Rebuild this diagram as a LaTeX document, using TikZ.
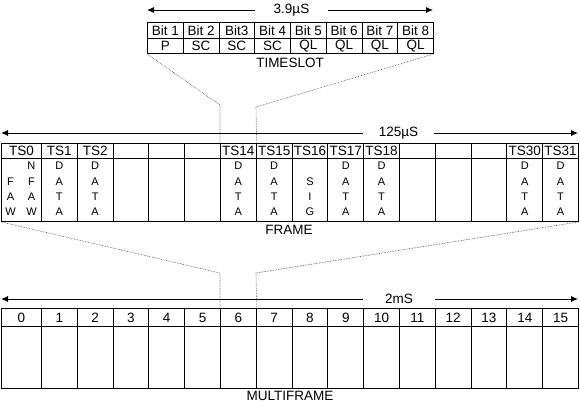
\documentclass[tikz,border=0pt]{standalone}
\usepackage{fontspec}
\setmainfont{Liberation Sans}
\usetikzlibrary{arrows.meta}

\begin{document}
\begin{tikzpicture}[x=1pt, y=-1pt]
% Styles
\tikzset{
  cell/.style={draw, line width=0.9pt, anchor=north west, inner sep=0pt, font=\fontsize{13.5}{15}\selectfont},
  letter/.style={inner sep=0pt, font=\fontsize{11}{13}\selectfont},
  title/.style={inner sep=0pt, font=\fontsize{13.5}{15}\selectfont},
  span/.style={-{Latex[length=7pt, width=6pt]}, line width=0.9pt},
  link/.style={densely dotted, line width=0.6pt, black!75}
}
\useasboundingbox (0,0) rectangle (580,406);

% Timeslot
\foreach \b/\v [count=\i] in {Bit 1/P, Bit 2/SC, Bit3/SC, Bit 4/SC, Bit 5/QL, Bit 6/QL, Bit 7/QL, Bit 8/QL} {
  \node[cell, minimum width=35.75, minimum height=16] (bit\i) at ({147+(\i-1)*35.75}, 22) {\b};
  \node[cell, minimum width=35.75, minimum height=15] (val\i) at ({147+(\i-1)*35.75}, 38) {\v};
}
\node[title] (tslot) at (290, 63) {TIMESLOT};
\node[title, minimum width=73] (tslen) at (291.5, 10) {3.9µS};
\coordinate (tsl) at (147, 10);
\coordinate (tsr) at (433, 10);
\draw[span] (tslen.west) -- (tsl);
\draw[span] (tslen.east) -- (tsr);

% Frame
\foreach \h [count=\i from 0] in {TS0,TS1,TS2,{},{},{},TS14,TS15,TS16,TS17,TS18,{},{},{},TS30,TS31} {
  \pgfmathsetmacro\xl{\i==0 ? 1 : 41+(\i-1)*35.8}
  \pgfmathsetmacro\w{\i==0 ? 40 : 35.8}
  \node[cell, minimum width=\w, minimum height=15] (fh\i) at (\xl, 143) {\h};
  \node[cell, minimum width=\w, minimum height=63] (fb\i) at (\xl, 158) {};
}
\foreach \i in {1,2,6,7,9,10,14,15}
  \foreach \c [count=\r] in {D,A,T,A}
    \path (fb\i.north) ++(0, {8+(\r-1)*15.3}) node[letter] (d\i-\r) {\c};
\foreach \c [count=\r from 2] in {S,I,G}
  \path (fb8.north) ++(0, {8+(\r-1)*15.3}) node[letter] (s8-\r) {\c};
\foreach \c [count=\r from 2] in {F,A,W}
  \path (fb0.north) ++(-11, {8+(\r-1)*15.3}) node[letter] (fa-\r) {\c};
\foreach \c [count=\r] in {N,F,A,W}
  \path (fb0.north) ++(10, {8+(\r-1)*15.3}) node[letter] (nf-\r) {\c};
\node[title] (frame) at (289, 230) {FRAME};
\node[title, minimum width=71] (frlen) at (398.5, 133) {125µS};
\coordinate (frl) at (1, 133);
\coordinate (frr) at (578, 133);
\draw[span] (frlen.west) -- (frl);
\draw[span] (frlen.east) -- (frr);

% Multiframe
\foreach \i in {0,...,15} {
  \pgfmathsetmacro\xl{\i==0 ? 1 : 41+(\i-1)*35.8}
  \pgfmathsetmacro\w{\i==0 ? 40 : 35.8}
  \node[cell, minimum width=\w, minimum height=18] (mh\i) at (\xl, 308) {\i};
  \node[cell, minimum width=\w, minimum height=62] (mb\i) at (\xl, 326) {};
}
\node[title] (mframe) at (290, 396) {MULTIFRAME};
\node[title, minimum width=72] (mflen) at (399, 299) {2mS};
\coordinate (mfl) at (1, 299);
\coordinate (mfr) at (578, 299);
\draw[span] (mflen.west) -- (mfl);
\draw[span] (mflen.east) -- (mfr);

% Zoom links
\coordinate (tsbl) at (220, 105);
\coordinate (tsbr) at (256, 107);
\draw[link] (val1.south west) -- (tsbl) -- (fh6.north west);
\draw[link] (val8.south east) -- (tsbr) -- (fh6.north east);
\coordinate (frbl) at (220, 273);
\coordinate (frbr) at (256, 273);
\draw[link] (fb0.south west) -- (frbl) -- (mh6.north west);
\draw[link] (fb15.south east) -- (frbr) -- (mh6.north east);

\end{tikzpicture}
\end{document}
